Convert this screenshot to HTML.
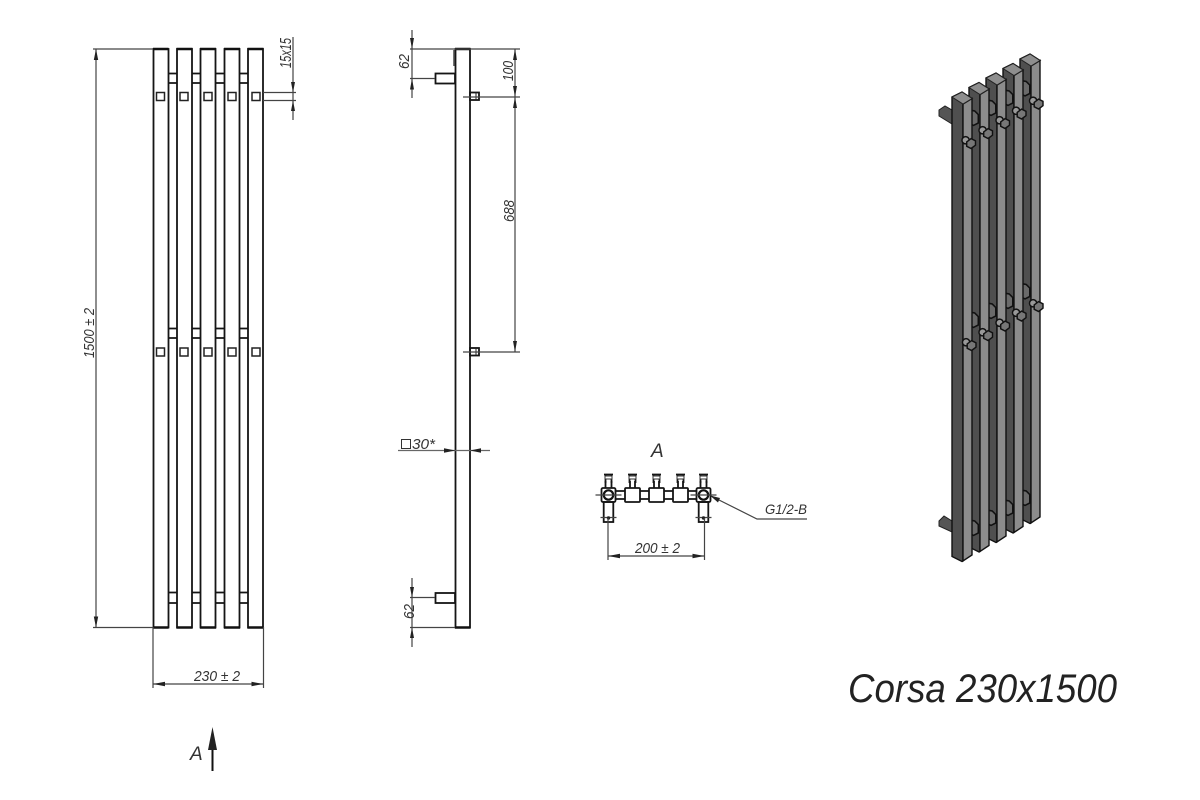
<!DOCTYPE html>
<html>
<head>
<meta charset="utf-8">
<style>
html,body{margin:0;padding:0;background:#fff;width:1200px;height:800px;overflow:hidden}
svg{display:block;filter:blur(0.35px)}
text{font-family:"Liberation Sans",sans-serif;font-style:italic;fill:#333}
.b{fill:none;stroke:#151515;stroke-width:1.8}
.d{fill:none;stroke:#444;stroke-width:1.2}
.a{fill:#222;stroke:none}
.k{fill:#777;stroke:#111;stroke-width:1.3}
</style>
</head>
<body>
<svg width="1200" height="800" viewBox="0 0 1200 800" xmlns="http://www.w3.org/2000/svg">
<defs>
  <g id="sq"><rect x="0" y="0" width="8" height="8" fill="#fff" stroke="#222" stroke-width="1.500"/></g>
  <g id="bar">
    <polygon points="0,5 10,0 20,6.500 11,12 11,469 10,469.500 0,464.500" fill="#4f4f4f" stroke="#111" stroke-width="1.400"/>
    <polygon points="11,12 20,6.500 20,463 11,469" fill="#8c8c8c" stroke="#111" stroke-width="1.400"/>
    <polygon points="0,5 10,0 20,6.500 11,12" fill="#8e8e8e" stroke="#222" stroke-width="1"/>
  </g>
  <g id="knob" transform="translate(-1 0) scale(1.100)">
    <circle cx="-4" cy="-2.500" r="3.300" fill="#999" stroke="#111" stroke-width="1.300"/>
    <polygon class="k" points="-3,-1 1,-4 5,-2 5,2 1,5 -3,3"/>
  </g>
  <g id="stub" transform="scale(1.200)">
    <polygon points="-4,-6 1,-5 4,-2 4,5 0,7 -4,5" fill="#6a6a6a" stroke="#111" stroke-width="1.300"/>
  </g>
  <g id="fit">
    <rect x="-7" y="-7" width="14" height="14" rx="1.500" fill="#fff" class="b"/>
    <circle cx="0" cy="0" r="4.700" fill="#fff" stroke="#111" stroke-width="2.200"/>
    <rect x="-4.800" y="7" width="9.600" height="20" fill="#fff" class="b"/>
    <path class="d" d="M-13 0H13M-8 22.500H8"/>
    <circle cx="0" cy="23" r="1.700" fill="#222"/>
  </g>
  <g id="valve">
    <path class="b" d="M-4.500 -20.500H4.500M-3 -20V-12M3 -20V-12"/>
    <rect x="-3.500" y="-19" width="7" height="3" fill="#fff" stroke="#333"/>
  </g>
</defs>

<!-- FRONT VIEW -->
<g class="b">
  <rect x="153.500" y="49" width="15" height="578.500"/>
  <rect x="177" y="49" width="15" height="578.500"/>
  <rect x="200.500" y="49" width="15" height="578.500"/>
  <rect x="224.500" y="49" width="15" height="578.500"/>
  <rect x="248" y="49" width="15" height="578.500"/>
</g>
<path d="M153 49H168.500M176.500 49H192.500M200 49H216M224 49H240M247.500 49H263.500M153 627.500H168.500M176.500 627.500H192.500M200 627.500H216M224 627.500H240M247.500 627.500H263.500" stroke="#111" stroke-width="2.400" fill="none"/>
<g class="b">
  <path d="M168.500 73.500H177M168.500 83H177M192 73.500H200.500M192 83H200.500M215.500 73.500H224.500M215.500 83H224.500M239.500 73.500H248M239.500 83H248"/>
  <path d="M168.500 328.500H177M168.500 338H177M192 328.500H200.500M192 338H200.500M215.500 328.500H224.500M215.500 338H224.500M239.500 328.500H248M239.500 338H248"/>
  <path d="M168.500 592.500H177M168.500 603H177M192 592.500H200.500M192 603H200.500M215.500 592.500H224.500M215.500 603H224.500M239.500 592.500H248M239.500 603H248"/>
</g>
<use href="#sq" x="156.500" y="92.500"/><use href="#sq" x="180" y="92.500"/><use href="#sq" x="204" y="92.500"/><use href="#sq" x="228" y="92.500"/><use href="#sq" x="252" y="92.500"/>
<use href="#sq" x="156.500" y="348"/><use href="#sq" x="180" y="348"/><use href="#sq" x="204" y="348"/><use href="#sq" x="228" y="348"/><use href="#sq" x="252" y="348"/>

<!-- front dims -->
<path class="d" d="M93 49H153M93 627.500H153M96 49V627.500"/>
<polygon class="a" points="96,49 93.800,60 98.200,60"/>
<polygon class="a" points="96,627.500 93.800,616.500 98.200,616.500"/>
<text transform="translate(94 358) rotate(-90)" font-size="15" textLength="50" lengthAdjust="spacingAndGlyphs">1500 ± 2</text>
<path class="d" d="M293 37V120M263 92.500H296M263 100.500H296"/>
<polygon class="a" points="293,92.500 291,82 295,82"/>
<polygon class="a" points="293,100.500 291,111 295,111"/>
<text transform="translate(291 68) rotate(-90)" font-size="16" textLength="30" lengthAdjust="spacingAndGlyphs">15x15</text>
<path class="d" d="M153 627V688M263.500 627V688M153 684H263.500"/>
<polygon class="a" points="153,684 165,681.800 165,686.200"/>
<polygon class="a" points="263.500,684 251.500,681.800 251.500,686.200"/>
<text x="194" y="681" font-size="15" textLength="46" lengthAdjust="spacingAndGlyphs">230 ± 2</text>

<!-- A arrow -->
<path d="M212.500 745V771" stroke="#111" stroke-width="2"/>
<polygon class="a" points="212.500,727 208,750 217,750"/>
<text x="190" y="760" font-size="19">A</text>

<!-- SIDE VIEW -->
<rect x="455.500" y="49" width="14.500" height="578.500" class="b"/>
<path d="M455 49H470.500M455 627.500H470.500" stroke="#111" stroke-width="2.400"/>
<rect x="435.500" y="73.500" width="19.500" height="10" fill="#fff" class="b"/>
<rect x="435.500" y="593" width="19.500" height="10" fill="#fff" class="b"/>
<path d="M454 50V66" stroke="#444" stroke-width="1.500"/>
<rect x="470" y="92.500" width="9" height="7.500" fill="#fff" class="b" stroke-width="1.200"/>
<path d="M476 92.500V100" stroke="#222"/>
<rect x="470" y="348" width="9" height="7.500" fill="#fff" class="b" stroke-width="1.200"/>
<path d="M476 348V355.500" stroke="#222"/>
<!-- side dims -->
<path class="d" d="M412 30V98M410 49H520M410 78.500H435M463 97H520M515 49V352M463 352H520"/>
<polygon class="a" points="412,49 410,38 414,38"/>
<polygon class="a" points="412,78.500 410,89.500 414,89.500"/>
<polygon class="a" points="515,49 513,60 517,60"/>
<polygon class="a" points="515,97 513,86 517,86"/>
<polygon class="a" points="515,97 513,108 517,108"/>
<polygon class="a" points="515,352 513,341 517,341"/>
<text transform="translate(409 69) rotate(-90)" font-size="15" textLength="15" lengthAdjust="spacingAndGlyphs">62</text>
<text transform="translate(513 81) rotate(-90)" font-size="15" textLength="20" lengthAdjust="spacingAndGlyphs">100</text>
<text transform="translate(514 222) rotate(-90)" font-size="15" textLength="22" lengthAdjust="spacingAndGlyphs">688</text>
<path class="d" d="M412 578V647M410 597.500H435M410 627.500H455"/>
<polygon class="a" points="412,597.500 410,587 414,587"/>
<polygon class="a" points="412,627.500 410,638 414,638"/>
<text transform="translate(414 619) rotate(-90)" font-size="15" textLength="15" lengthAdjust="spacingAndGlyphs">62</text>
<!-- 30 -->
<path d="M398 450.500H490" stroke="#666" stroke-width="1.200"/>
<polygon class="a" points="455.500,450.500 444,448.300 444,452.700"/>
<polygon class="a" points="470,450.500 481,448.300 481,452.700"/>
<rect x="401.500" y="439.500" width="9" height="9" fill="none" stroke="#333" stroke-width="1"/>
<text x="412" y="449" font-size="15" textLength="23" lengthAdjust="spacingAndGlyphs">30*</text>

<!-- VIEW A -->
<text x="651" y="457" font-size="19">A</text>
<path class="b" d="M615 491H625M615 499H625M640 491H649M640 499H649M664 491H673M664 499H673M688 491H697M688 499H697"/>
<rect x="625" y="488" width="15" height="14" rx="1" fill="#fff" class="b"/>
<rect x="649" y="488" width="15" height="14" rx="1" fill="#fff" class="b"/>
<rect x="673" y="488" width="15" height="14" rx="1" fill="#fff" class="b"/>
<g transform="translate(608.500 495)"><use href="#fit"/></g>
<g transform="translate(703.500 495)"><use href="#fit"/></g>
<use href="#valve" x="632.500" y="495"/><use href="#valve" x="656.500" y="495"/><use href="#valve" x="680.500" y="495"/>
<use href="#valve" x="608.500" y="495"/><use href="#valve" x="703.500" y="495"/>
<path class="b" d="M630 481V488M635 481V488M654 481V488M659 481V488M678 481V488M683 481V488M605.500 481V488M611.500 481V488M700.500 481V488M706.500 481V488" stroke-width="1.200"/>
<path class="d" d="M711 496L757 519H807"/>
<polygon class="a" points="710,495.500 720,498 718,502.500"/>
<text x="765" y="514" font-size="14" textLength="42" lengthAdjust="spacingAndGlyphs">G1/2-B</text>
<path class="d" d="M608 518V560M704.500 518V560M608 556H704.500"/>
<polygon class="a" points="608,556 620,553.800 620,558.200"/>
<polygon class="a" points="704.500,556 692.500,553.800 692.500,558.200"/>
<text x="635" y="553" font-size="15" textLength="45" lengthAdjust="spacingAndGlyphs">200 ± 2</text>

<!-- 3D VIEW -->
<polygon points="939,110 945,106 952,110 952,124 939,116" fill="#555" stroke="#222"/>
<polygon points="939,521 944,516 952,521 952,532 939,526" fill="#555" stroke="#222"/>
<g transform="translate(1020 54)"><use href="#bar"/></g>
<use href="#knob" x="1038.500" y="103.500"/><use href="#knob" x="1038.500" y="306"/>
<use href="#stub" x="1025" y="87.500"/><use href="#stub" x="1025" y="290.500"/><use href="#stub" x="1025" y="497"/>
<g transform="translate(1003 63.500)"><use href="#bar"/></g>
<use href="#knob" x="1021.500" y="113.500"/><use href="#knob" x="1021.500" y="315.500"/>
<use href="#stub" x="1008" y="97"/><use href="#stub" x="1008" y="300"/><use href="#stub" x="1008" y="507"/>
<g transform="translate(986 73)"><use href="#bar"/></g>
<use href="#knob" x="1005" y="123"/><use href="#knob" x="1005" y="325.500"/>
<use href="#stub" x="991" y="107"/><use href="#stub" x="991" y="310"/><use href="#stub" x="991" y="517"/>
<g transform="translate(969 82.500)"><use href="#bar"/></g>
<use href="#knob" x="988" y="133"/><use href="#knob" x="988" y="335"/>
<use href="#stub" x="973.500" y="117"/><use href="#stub" x="973.500" y="319"/><use href="#stub" x="973.500" y="527"/>
<g transform="translate(952 92)"><use href="#bar"/></g>
<use href="#knob" x="971" y="143"/><use href="#knob" x="971.500" y="345"/>

<!-- TITLE -->
<text x="848" y="702" font-size="40" textLength="269" lengthAdjust="spacingAndGlyphs" style="fill:#222">Corsa 230x1500</text>
</svg>
</body>
</html>
